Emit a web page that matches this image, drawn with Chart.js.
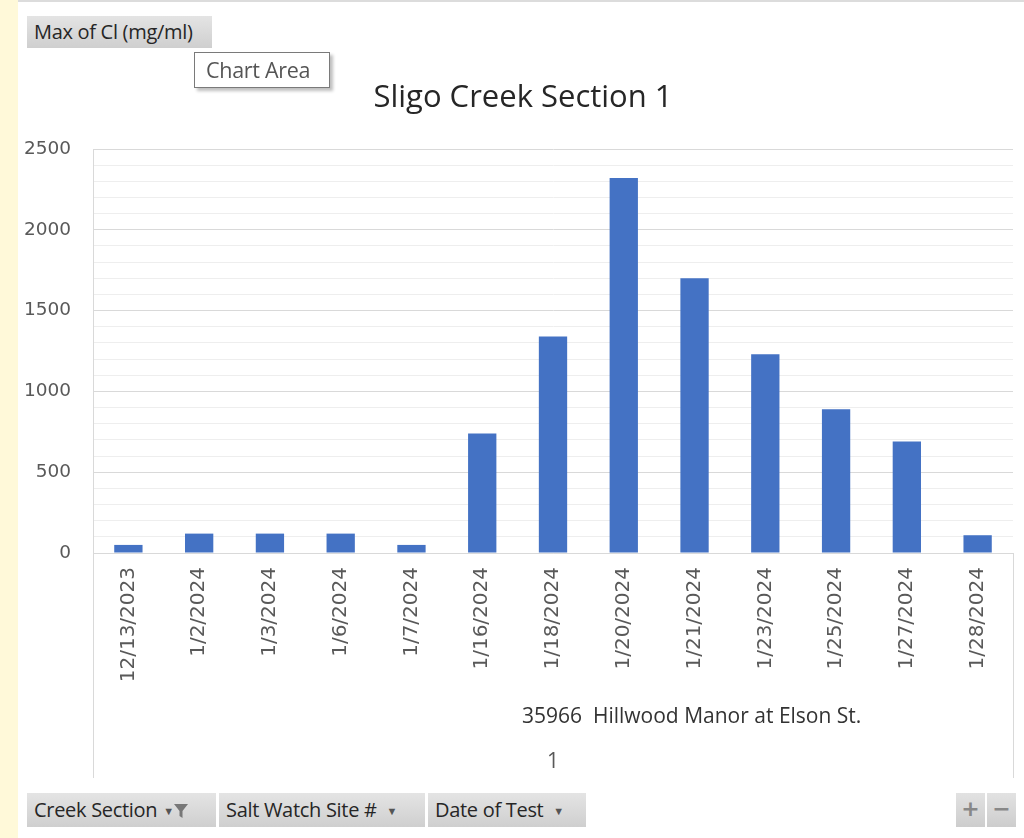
<!DOCTYPE html>
<html>
<head>
<meta charset="utf-8">
<script src="https://cdn.jsdelivr.net/npm/chart.js@4"></script>
<style>
  html, body { margin: 0; padding: 0; background: #fff; }
  #wrap { position: relative; width: 1024px; height: 838px; overflow: hidden; background: #fff; }
  #strip { position: absolute; left: 0; top: 0; width: 18px; height: 838px; background: #fff9d9; }
  #topline { position: absolute; left: 18px; top: 0; width: 1006px; height: 2px; background: #dcdcdc; }
  canvas { position: absolute; left: 0; top: 0; }
  #title { position: absolute; left: 273px; width: 500px; top: 74px; text-align: center;
    font-family: "Open Sans", sans-serif; font-size: 31px; color: #262626; line-height: 42px; }
  .btn {
    position: absolute; height: 34px; line-height: 34px; padding: 0 7px;
    font-family: "Open Sans", sans-serif; font-size: 20px; color: #262626; letter-spacing: -0.3px;
    background: linear-gradient(#e4e4e4, #cfcfcf); box-sizing: border-box; white-space: nowrap;
  }
  .arrow { font-size: 11px; color: #555; margin-left: 5px; vertical-align: 2px; }
  #tip {
    position: absolute; left: 194px; top: 52px; width: 136px; height: 36px; box-sizing: border-box;
    border: 1px solid #7a7a7a; background: #fff; box-shadow: 3px 3px 3px rgba(0,0,0,0.25);
    font-family: "Open Sans", sans-serif; font-size: 21.5px; color: #555; line-height: 33px; padding-left: 11px;
    letter-spacing: -0.3px;
  }
  .pm { position: absolute; top: 793px; width: 29px; height: 34px; background: linear-gradient(#e2e2e2, #cdcdcd);
    color: #888; font: bold 22px "DejaVu Sans", sans-serif; text-align: center; line-height: 32px; }
</style>
</head>
<body>
<div id="wrap">
  <div id="strip"></div>
  <div id="topline"></div>
  <canvas id="c" width="1024" height="838"></canvas>
  <div id="title">Sligo Creek Section 1</div>
  <div class="btn" style="left:27px; top:16px; width:185px; height:32px; line-height:32px;">Max of Cl (mg/ml)</div>
  <div id="tip">Chart Area</div>
  <div class="btn" style="left:27px; top:793px; width:189px;">Creek Section <span class="arrow" style="margin-left:1px">&#9660;</span><svg width="14" height="16" viewBox="0 0 14 16" style="vertical-align:-2px"><path d="M0 1 H14 L8.5 8 V15 L5.5 13 V8 Z" fill="#777"/></svg></div>
  <div class="btn" style="left:219px; top:793px; width:206px;">Salt Watch Site # <span class="arrow">&#9660;</span></div>
  <div class="btn" style="left:428px; top:793px; width:158px;">Date of Test <span class="arrow">&#9660;</span></div>
  <div class="pm" style="left:956px;">+</div>
  <div class="pm" style="left:987px;">&minus;</div>
</div>
<script>
const dates = ['12/13/2023', '1/2/2024', '1/3/2024', '1/6/2024', '1/7/2024', '1/16/2024', '1/18/2024',
  '1/20/2024', '1/21/2024', '1/23/2024', '1/25/2024', '1/27/2024', '1/28/2024']
const maxCl = [50, 120, 120, 120, 50, 740, 1340, 2320, 1700, 1230, 890, 690, 110]
const yMax = 2500
const yMajor = 500
const yMinor = 100
const siteLabel = '35966  Hillwood Manor at Elson St.'
const sectionLabel = '1'

const gray = '#595959'
const lineCol = '#d9d9d9'

// box lines + multi-level category labels under the dates
const extras = {
  id: 'extras',
  afterDraw(chart) {
    const { ctx, chartArea: a } = chart
    ctx.save()
    ctx.strokeStyle = lineCol
    ctx.lineWidth = 1
    ctx.beginPath()
    ctx.moveTo(Math.round(a.left) + 0.5, a.bottom)
    ctx.lineTo(Math.round(a.left) + 0.5, 778)
    ctx.moveTo(Math.round(a.right) + 0.5, a.bottom)
    ctx.lineTo(Math.round(a.right) + 0.5, 778)
    ctx.stroke()
    const mid = (a.left + a.right) / 2
    ctx.fillStyle = '#333'
    ctx.textBaseline = 'middle'
    ctx.font = '21px "Open Sans", sans-serif'
    ctx.textAlign = 'left'
    ctx.fillText(siteLabel, mid - 31, 717)
    ctx.textAlign = 'center'
    ctx.fillStyle = gray
    ctx.fillText(sectionLabel, mid, 762)
    ctx.restore()
  }
}

new Chart(document.getElementById('c'), {
  type: 'bar',
  data: {
    labels: dates,
    datasets: [{ label: 'Max of Cl (mg/ml)', data: maxCl, backgroundColor: '#4472c4', barPercentage: 0.4, categoryPercentage: 1 }],
  },
  options: {
    responsive: false,
    animation: false,
    layout: { padding: { left: 0, right: 11, top: 149, bottom: 60 } },
    plugins: {
      legend: { display: false },
      tooltip: { enabled: false },
    },
    scales: {
      x: {
        afterFit: s => { s.height = 225 },
        grid: { display: false, drawTicks: false },
        border: { display: true, color: lineCol },
        ticks: { color: gray, font: { family: 'DejaVu Sans', size: 20 }, minRotation: 90, maxRotation: 90, padding: 14, autoSkip: false },
      },
      y: {
        min: 0, max: yMax,
        afterFit: s => { s.width = 93 },
        grid: { color: c => c.tick.value % yMajor === 0 ? lineCol : '#eeeeee', drawTicks: false },
        border: { display: true, color: lineCol },
        ticks: { stepSize: yMinor, autoSkip: false, color: gray, padding: 22, font: { family: 'DejaVu Sans', size: 18.5 },
          callback: v => v % yMajor === 0 ? v : '' },
      },
    },
  },
  plugins: [extras],
})
</script>
</body>
</html>
